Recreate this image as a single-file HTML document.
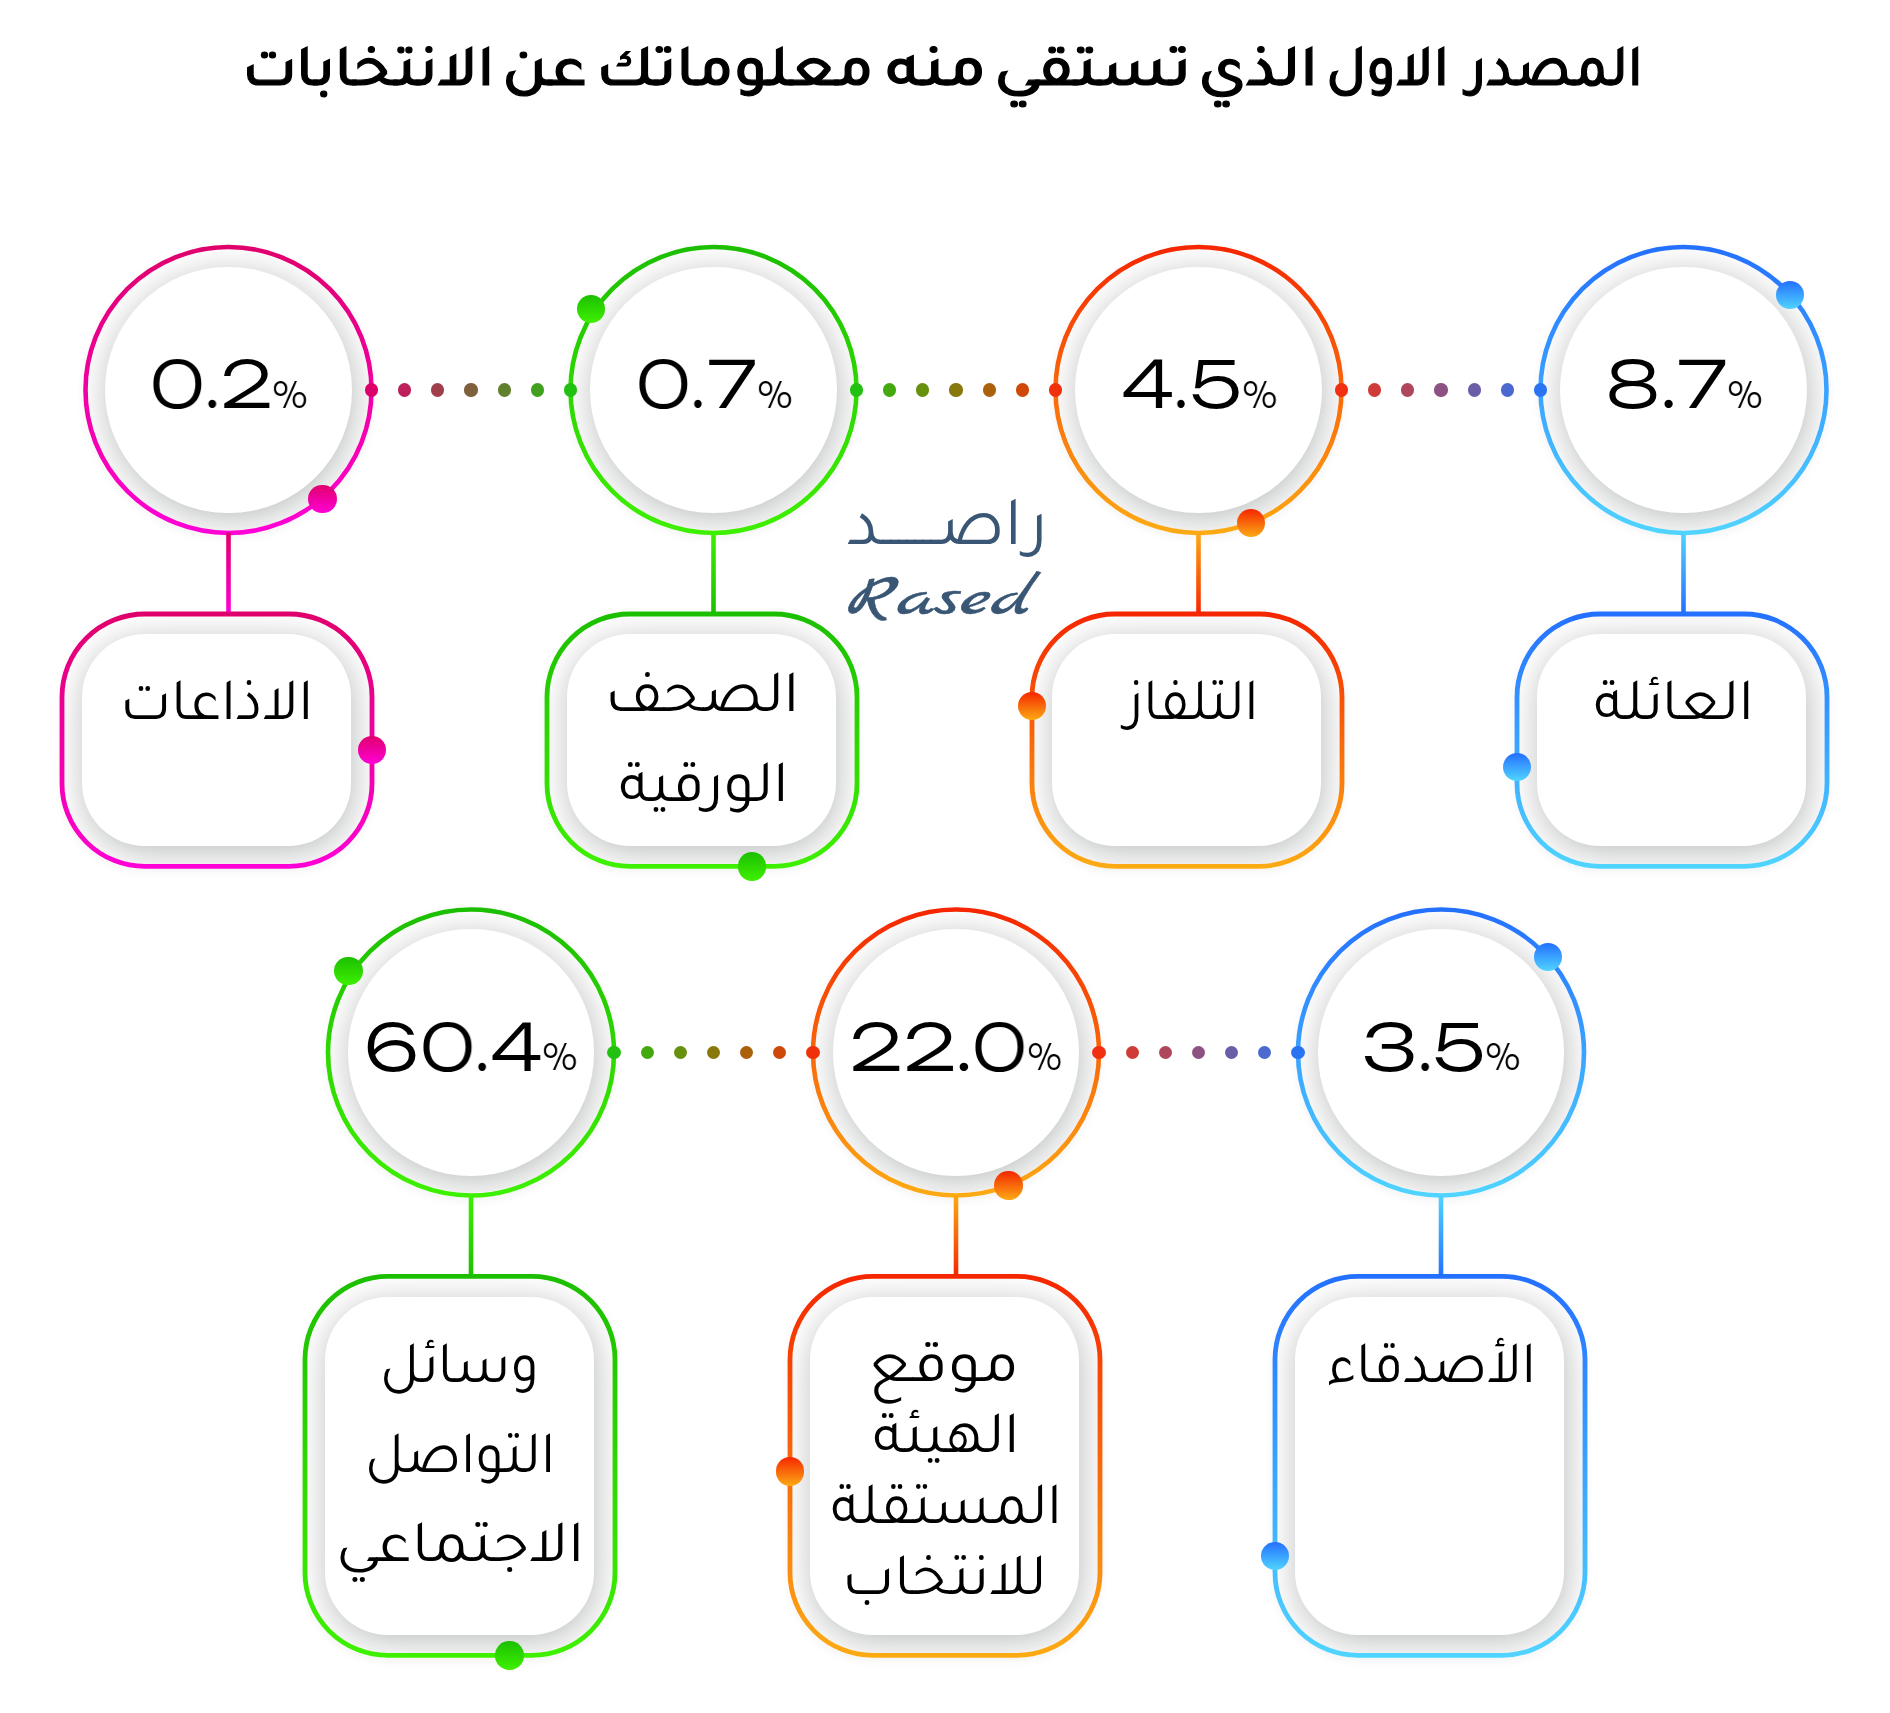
<!DOCTYPE html>
<html lang="ar"><head><meta charset="utf-8"><title>المصدر الاول الذي تستقي منه معلوماتك عن الانتخابات</title>
<style>
html,body{margin:0;padding:0;background:#fff}
*{-webkit-font-smoothing:antialiased}
body{width:1890px;height:1713px;position:relative;overflow:hidden}
.ring,.box,.clip,.disc,.conn,.sd,.bd,.lbl,.title,.logo{position:absolute;box-sizing:border-box}
.ring{background:#fff;border-radius:50%;box-shadow:0 3px 10px rgba(0,0,0,.05)}
.strokes{position:absolute;left:0;top:0}
.box{background:#fff;box-shadow:0 3px 10px rgba(0,0,0,.05)}
.clip{overflow:hidden;border-radius:50%}
.disc{background:#fff;border-radius:50%;box-shadow:2px 6px 34px rgba(0,12,12,.28)}
.conn{width:4.5px}
.sd{width:13.2px;height:13.2px;border-radius:50%}
.bd{width:28.4px;height:28.4px;border-radius:50%}
.num span{position:absolute;font-family:"Unbounded","Liberation Sans",sans-serif;font-weight:300;font-size:63.5px;line-height:1;color:#000;white-space:nowrap;transform-origin:0 0;will-change:transform}
.num span.pc{font-size:36.2px}
.lbl{font-family:'Tajawal',"DejaVu Sans",sans-serif;font-weight:400;font-size:60px;line-height:1;text-align:left;color:#000;white-space:nowrap;direction:rtl;transform-origin:0 0}
.title{margin:0;left:0;top:0;width:1890px;height:120px;font-size:0}
.title span{position:absolute;font-family:"Tajawal","DejaVu Sans",sans-serif;font-weight:500;font-size:59px;line-height:1;color:#000;white-space:nowrap;direction:rtl;transform-origin:0 0;-webkit-text-stroke:1.2px #000}
.logo{color:#3a5675;white-space:nowrap;transform-origin:0 0;line-height:1}
.logo.ar{font-family:"Tajawal",sans-serif;font-weight:400;font-size:70px;direction:rtl}
.logo.en{font-family:"Marck Script","Courgette",cursive;font-size:60px;letter-spacing:0px;-webkit-text-stroke:0.5px #3a5675}
</style></head>
<body>
<h1 class="title"><span style="left:1468.13px;top:47.3px;width:182.97px;transform:scaleX(0.9554)">المصدر</span> <span style="left:1326.42px;top:47.3px;width:123.84px;transform:scaleX(0.9939)">الاول</span> <span style="left:1198.43px;top:47.3px;width:107.33px;transform:scaleX(1.1172)">الذي</span> <span style="left:993.74px;top:47.3px;width:172.88px;transform:scaleX(1.1396)">تستقي</span> <span style="left:885.53px;top:47.3px;width:85.61px;transform:scaleX(1.1741)">منه</span> <span style="left:595.57px;top:47.3px;width:251.05px;transform:scaleX(1.1066)">معلوماتك</span> <span style="left:501.69px;top:47.3px;width:75.64px;transform:scaleX(1.1275)">عن</span> <span style="left:242.47px;top:47.3px;width:236.78px;transform:scaleX(1.0652)">الانتخابات</span></h1>
<div class="ring" style="left:83.2px;top:244.7px;width:290.6px;height:290.6px"></div>
<div class="clip" style="left:87.8px;top:249.3px;width:281.4px;height:281.4px"><div class="disc" style="left:17.5px;top:17.5px;width:246.4px;height:246.4px"></div></div>
<div class="ring" style="left:568.2px;top:244.7px;width:290.6px;height:290.6px"></div>
<div class="clip" style="left:572.8px;top:249.3px;width:281.4px;height:281.4px"><div class="disc" style="left:17.5px;top:17.5px;width:246.4px;height:246.4px"></div></div>
<div class="ring" style="left:1053.2px;top:244.7px;width:290.6px;height:290.6px"></div>
<div class="clip" style="left:1057.8px;top:249.3px;width:281.4px;height:281.4px"><div class="disc" style="left:17.5px;top:17.5px;width:246.4px;height:246.4px"></div></div>
<div class="ring" style="left:1538.2px;top:244.7px;width:290.6px;height:290.6px"></div>
<div class="clip" style="left:1542.8px;top:249.3px;width:281.4px;height:281.4px"><div class="disc" style="left:17.5px;top:17.5px;width:246.4px;height:246.4px"></div></div>
<div class="ring" style="left:325.7px;top:907.2px;width:290.6px;height:290.6px"></div>
<div class="clip" style="left:330.3px;top:911.8px;width:281.4px;height:281.4px"><div class="disc" style="left:17.5px;top:17.5px;width:246.4px;height:246.4px"></div></div>
<div class="ring" style="left:810.7px;top:907.2px;width:290.6px;height:290.6px"></div>
<div class="clip" style="left:815.3px;top:911.8px;width:281.4px;height:281.4px"><div class="disc" style="left:17.5px;top:17.5px;width:246.4px;height:246.4px"></div></div>
<div class="ring" style="left:1295.7px;top:907.2px;width:290.6px;height:290.6px"></div>
<div class="clip" style="left:1300.3px;top:911.8px;width:281.4px;height:281.4px"><div class="disc" style="left:17.5px;top:17.5px;width:246.4px;height:246.4px"></div></div>
<div class="box" style="left:59.6px;top:611.6px;width:314.8px;height:257.2px;border-radius:85.4px"></div>
<div class="clip" style="left:64.4px;top:616.4px;width:305.2px;height:247.6px;border-radius:80.6px"><div class="disc" style="left:18.1px;top:18.1px;width:269px;height:211.4px;border-radius:63px"></div></div>
<div class="box" style="left:544.6px;top:611.6px;width:314.8px;height:257.2px;border-radius:85.4px"></div>
<div class="clip" style="left:549.4px;top:616.4px;width:305.2px;height:247.6px;border-radius:80.6px"><div class="disc" style="left:18.1px;top:18.1px;width:269px;height:211.4px;border-radius:63px"></div></div>
<div class="box" style="left:1029.6px;top:611.6px;width:314.8px;height:257.2px;border-radius:85.4px"></div>
<div class="clip" style="left:1034.4px;top:616.4px;width:305.2px;height:247.6px;border-radius:80.6px"><div class="disc" style="left:18.1px;top:18.1px;width:269px;height:211.4px;border-radius:63px"></div></div>
<div class="box" style="left:1514.6px;top:611.6px;width:314.8px;height:257.2px;border-radius:85.4px"></div>
<div class="clip" style="left:1519.4px;top:616.4px;width:305.2px;height:247.6px;border-radius:80.6px"><div class="disc" style="left:18.1px;top:18.1px;width:269px;height:211.4px;border-radius:63px"></div></div>
<div class="box" style="left:302.6px;top:1274px;width:314.8px;height:383.8px;border-radius:85.4px"></div>
<div class="clip" style="left:307.4px;top:1278.8px;width:305.2px;height:374.2px;border-radius:80.6px"><div class="disc" style="left:18.1px;top:18.1px;width:269px;height:338px;border-radius:63px"></div></div>
<div class="box" style="left:787.6px;top:1274px;width:314.8px;height:383.8px;border-radius:85.4px"></div>
<div class="clip" style="left:792.4px;top:1278.8px;width:305.2px;height:374.2px;border-radius:80.6px"><div class="disc" style="left:18.1px;top:18.1px;width:269px;height:338px;border-radius:63px"></div></div>
<div class="box" style="left:1272.6px;top:1274px;width:314.8px;height:383.8px;border-radius:85.4px"></div>
<div class="clip" style="left:1277.4px;top:1278.8px;width:305.2px;height:374.2px;border-radius:80.6px"><div class="disc" style="left:18.1px;top:18.1px;width:269px;height:338px;border-radius:63px"></div></div>
<svg class="strokes" width="1890" height="1713" viewBox="0 0 1890 1713" fill="none"><defs><linearGradient id="g0" x1="0" y1="0" x2="0" y2="1"><stop offset="0" stop-color="#e0006c"/><stop offset="1" stop-color="#ff00d6"/></linearGradient><linearGradient id="g1" x1="0" y1="0" x2="0" y2="1"><stop offset="0" stop-color="#1cbf00"/><stop offset="1" stop-color="#3ef000"/></linearGradient><linearGradient id="g2" x1="0" y1="0" x2="0" y2="1"><stop offset="0" stop-color="#f52600"/><stop offset="1" stop-color="#fcaa14"/></linearGradient><linearGradient id="g3" x1="0" y1="0" x2="0" y2="1"><stop offset="0" stop-color="#2470ff"/><stop offset="1" stop-color="#50d4ff"/></linearGradient><linearGradient id="g4" x1="0" y1="0" x2="0" y2="1"><stop offset="0" stop-color="#3ef000"/><stop offset="1" stop-color="#1cbf00"/></linearGradient><linearGradient id="g5" x1="0" y1="0" x2="0" y2="1"><stop offset="0" stop-color="#fcaa14"/><stop offset="1" stop-color="#f52600"/></linearGradient><linearGradient id="g6" x1="0" y1="0" x2="0" y2="1"><stop offset="0" stop-color="#50d4ff"/><stop offset="1" stop-color="#2470ff"/></linearGradient></defs><circle cx="228.5" cy="390" r="143" stroke="url(#g0)" stroke-width="4.6"/><circle cx="713.5" cy="390" r="143" stroke="url(#g1)" stroke-width="4.6"/><circle cx="1198.5" cy="390" r="143" stroke="url(#g2)" stroke-width="4.6"/><circle cx="1683.5" cy="390" r="143" stroke="url(#g3)" stroke-width="4.6"/><circle cx="471" cy="1052.5" r="143" stroke="url(#g1)" stroke-width="4.6"/><circle cx="956" cy="1052.5" r="143" stroke="url(#g2)" stroke-width="4.6"/><circle cx="1441" cy="1052.5" r="143" stroke="url(#g3)" stroke-width="4.6"/><rect x="226.2" y="532.5" width="4.6" height="81.5" fill="url(#g0)" stroke="none"/><rect x="711.2" y="532.5" width="4.6" height="81.5" fill="url(#g4)" stroke="none"/><rect x="1196.2" y="532.5" width="4.6" height="81.5" fill="url(#g5)" stroke="none"/><rect x="1681.2" y="532.5" width="4.6" height="81.5" fill="url(#g6)" stroke="none"/><rect x="468.7" y="1195" width="4.6" height="81.4" fill="url(#g4)" stroke="none"/><rect x="953.7" y="1195" width="4.6" height="81.4" fill="url(#g5)" stroke="none"/><rect x="1438.7" y="1195" width="4.6" height="81.4" fill="url(#g6)" stroke="none"/><rect x="62" y="614" width="310" height="252.4" rx="83" stroke="url(#g0)" stroke-width="4.8"/><rect x="547" y="614" width="310" height="252.4" rx="83" stroke="url(#g1)" stroke-width="4.8"/><rect x="1032" y="614" width="310" height="252.4" rx="83" stroke="url(#g2)" stroke-width="4.8"/><rect x="1517" y="614" width="310" height="252.4" rx="83" stroke="url(#g3)" stroke-width="4.8"/><rect x="305" y="1276.4" width="310" height="379" rx="83" stroke="url(#g1)" stroke-width="4.8"/><rect x="790" y="1276.4" width="310" height="379" rx="83" stroke="url(#g2)" stroke-width="4.8"/><rect x="1275" y="1276.4" width="310" height="379" rx="83" stroke="url(#g3)" stroke-width="4.8"/></svg>
<div class="sd" style="left:364.9px;top:383.4px;background:#dc006a"></div>
<div class="sd" style="left:398.07px;top:383.4px;background:#bd205b"></div>
<div class="sd" style="left:431.23px;top:383.4px;background:#9e404c"></div>
<div class="sd" style="left:464.4px;top:383.4px;background:#7f603d"></div>
<div class="sd" style="left:497.57px;top:383.4px;background:#60802e"></div>
<div class="sd" style="left:530.73px;top:383.4px;background:#41a01f"></div>
<div class="sd" style="left:563.9px;top:383.4px;background:#22c010"></div>
<div class="sd" style="left:849.9px;top:383.4px;background:#22c010"></div>
<div class="sd" style="left:883.07px;top:383.4px;background:#44a80f"></div>
<div class="sd" style="left:916.23px;top:383.4px;background:#67900d"></div>
<div class="sd" style="left:949.4px;top:383.4px;background:#89780c"></div>
<div class="sd" style="left:982.57px;top:383.4px;background:#ab600b"></div>
<div class="sd" style="left:1015.73px;top:383.4px;background:#ce4809"></div>
<div class="sd" style="left:1048.9px;top:383.4px;background:#f03008"></div>
<div class="sd" style="left:1334.9px;top:383.4px;background:#f03010"></div>
<div class="sd" style="left:1368.07px;top:383.4px;background:#cf3b36"></div>
<div class="sd" style="left:1401.23px;top:383.4px;background:#ae475c"></div>
<div class="sd" style="left:1434.4px;top:383.4px;background:#8d5282"></div>
<div class="sd" style="left:1467.57px;top:383.4px;background:#6c5da8"></div>
<div class="sd" style="left:1500.73px;top:383.4px;background:#4b69ce"></div>
<div class="sd" style="left:1533.9px;top:383.4px;background:#2a74f4"></div>
<div class="sd" style="left:607.4px;top:1045.9px;background:#22c010"></div>
<div class="sd" style="left:640.57px;top:1045.9px;background:#44a80f"></div>
<div class="sd" style="left:673.73px;top:1045.9px;background:#67900d"></div>
<div class="sd" style="left:706.9px;top:1045.9px;background:#89780c"></div>
<div class="sd" style="left:740.07px;top:1045.9px;background:#ab600b"></div>
<div class="sd" style="left:773.23px;top:1045.9px;background:#ce4809"></div>
<div class="sd" style="left:806.4px;top:1045.9px;background:#f03008"></div>
<div class="sd" style="left:1092.4px;top:1045.9px;background:#f03010"></div>
<div class="sd" style="left:1125.57px;top:1045.9px;background:#cf3b36"></div>
<div class="sd" style="left:1158.73px;top:1045.9px;background:#ae475c"></div>
<div class="sd" style="left:1191.9px;top:1045.9px;background:#8d5282"></div>
<div class="sd" style="left:1225.07px;top:1045.9px;background:#6c5da8"></div>
<div class="sd" style="left:1258.23px;top:1045.9px;background:#4b69ce"></div>
<div class="sd" style="left:1291.4px;top:1045.9px;background:#2a74f4"></div>
<div class="bd" style="left:308.3px;top:484.5px;background:linear-gradient(#e0006c,#ff00d6)"></div>
<div class="bd" style="left:576.8px;top:294.5px;background:linear-gradient(#1cbf00,#3ef000)"></div>
<div class="bd" style="left:1236.8px;top:508.7px;background:linear-gradient(#f52600,#fcaa14)"></div>
<div class="bd" style="left:1776px;top:280.5px;background:linear-gradient(#2470ff,#50d4ff)"></div>
<div class="bd" style="left:334.3px;top:957px;background:linear-gradient(#1cbf00,#3ef000)"></div>
<div class="bd" style="left:994.3px;top:1171.2px;background:linear-gradient(#f52600,#fcaa14)"></div>
<div class="bd" style="left:1533.5px;top:943px;background:linear-gradient(#2470ff,#50d4ff)"></div>
<div class="bd" style="left:357.8px;top:735.8px;background:linear-gradient(#e0006c,#ff00d6)"></div>
<div class="bd" style="left:737.5px;top:852.2px;background:linear-gradient(#1cbf00,#3ef000)"></div>
<div class="bd" style="left:1017.8px;top:691.8px;background:linear-gradient(#f52600,#fcaa14)"></div>
<div class="bd" style="left:1502.8px;top:752.8px;background:linear-gradient(#2470ff,#50d4ff)"></div>
<div class="bd" style="left:495.3px;top:1641.2px;background:linear-gradient(#1cbf00,#3ef000)"></div>
<div class="bd" style="left:775.8px;top:1457.3px;background:linear-gradient(#f52600,#fcaa14)"></div>
<div class="bd" style="left:1260.8px;top:1542px;background:linear-gradient(#2470ff,#50d4ff)"></div>
<div class="num"><span style="left:149.96px;top:353.2px;transform:scaleX(0.982)">0</span><span style="left:204.8px;top:353.2px;transform:scaleX(0.950)">.</span><span style="left:220.65px;top:353.2px;transform:scaleX(1.051)">2</span><span class="pc" style="left:273.39px;top:376.98px;transform:scaleX(0.800)">%</span></div>
<div class="num"><span style="left:635.76px;top:353.2px;transform:scaleX(0.982)">0</span><span style="left:691.4px;top:353.2px;transform:scaleX(0.900)">.</span><span style="left:709px;top:353.2px;transform:scaleX(1.112)">7</span><span class="pc" style="left:757.69px;top:376.98px;transform:scaleX(0.800)">%</span></div>
<div class="num"><span style="left:1121.85px;top:353.2px;transform:scaleX(1.050)">4</span><span style="left:1174.35px;top:353.2px;transform:scaleX(0.912)">.</span><span style="left:1189.59px;top:353.2px;transform:scaleX(1.071)">5</span><span class="pc" style="left:1242.5px;top:376.98px;transform:scaleX(0.793)">%</span></div>
<div class="num"><span style="left:1606.36px;top:353.2px;transform:scaleX(1.015)">8</span><span style="left:1661px;top:353.2px;transform:scaleX(0.975)">.</span><span style="left:1679px;top:353.2px;transform:scaleX(1.122)">7</span><span class="pc" style="left:1727.69px;top:376.98px;transform:scaleX(0.800)">%</span></div>
<div class="num"><span style="left:363.64px;top:1015.5px;transform:scaleX(1.066)">6</span><span style="left:419.74px;top:1015.5px;transform:scaleX(0.986)">0</span><span style="left:474.95px;top:1015.5px;transform:scaleX(0.938)">.</span><span style="left:491.36px;top:1015.5px;transform:scaleX(1.037)">4</span><span class="pc" style="left:543.49px;top:1039.28px;transform:scaleX(0.796)">%</span></div>
<div class="num"><span style="left:850.49px;top:1015.5px;transform:scaleX(1.070)">2</span><span style="left:904.11px;top:1015.5px;transform:scaleX(1.063)">2</span><span style="left:955.85px;top:1015.5px;transform:scaleX(1.037)">.</span><span style="left:972.24px;top:1015.5px;transform:scaleX(0.986)">0</span><span class="pc" style="left:1028.3px;top:1039.28px;transform:scaleX(0.786)">%</span></div>
<div class="num"><span style="left:1362.47px;top:1015.5px;transform:scaleX(1.109)">3</span><span style="left:1417.65px;top:1015.5px;transform:scaleX(0.938)">.</span><span style="left:1433.16px;top:1015.5px;transform:scaleX(1.081)">5</span><span class="pc" style="left:1486.09px;top:1039.28px;transform:scaleX(0.796)">%</span></div>
<div class="lbl" style="left:119.77px;top:679.9px;width:196.03px;transform:scaleX(0.9855)">الاذاعات</div>
<div class="lbl" style="left:604.67px;top:671.5px;width:189.19px;transform:scaleX(1.0251)">الصحف</div>
<div class="lbl" style="left:618.55px;top:761.5px;width:165.55px;transform:scaleX(1.0228)">الورقية</div>
<div class="lbl" style="left:1125.59px;top:679.8px;width:141.97px;transform:scaleX(0.9322)">التلفاز</div>
<div class="lbl" style="left:1594.09px;top:679.6px;width:158.95px;transform:scaleX(1.0053)">العائلة</div>
<div class="lbl" style="left:380.05px;top:1342.8px;width:165.12px;transform:scaleX(0.9635)">وسائل</div>
<div class="lbl" style="left:364.88px;top:1432.7px;width:198.91px;transform:scaleX(0.9556)">التواصل</div>
<div class="lbl" style="left:335.63px;top:1522.2px;width:232.14px;transform:scaleX(1.0686)">الاجتماعي</div>
<div class="lbl" style="left:869.42px;top:1342.2px;width:136.98px;transform:scaleX(1.0961)">موقع</div>
<div class="lbl" style="left:872.57px;top:1413.3px;width:144.19px;transform:scaleX(1.0146)">الهيئة</div>
<div class="lbl" style="left:831.06px;top:1484.3px;width:237.84px;transform:scaleX(0.9696)">المستقلة</div>
<div class="lbl" style="left:841.86px;top:1554.6px;width:202.98px;transform:scaleX(1.0073)">للانتخاب</div>
<div class="lbl" style="left:1327.1px;top:1342.5px;width:220.09px;transform:scaleX(0.9484)">الأصدقاء</div>
<div class="logo ar" style="left:847.01px;top:498.5px;width:203.14px;transform:scaleX(0.9888)">راصـــــــد</div>
<div class="logo en" style="left:845.64px;top:571.27px;width:142.5px;transform:scale(1.3297,0.9712)">Rased</div>
</body></html>
